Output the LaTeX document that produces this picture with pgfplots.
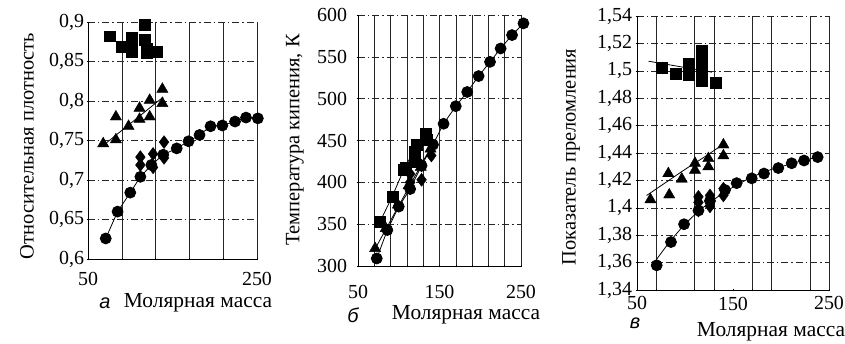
\documentclass[border=0pt]{standalone}
\usepackage{fontspec}
\setmainfont{Liberation Serif}
\newfontfamily\sansit{Liberation Sans}
\usepackage{pgfplots}
\pgfplotsset{compat=1.18}
\pgfplotsset{
  panel/.style={
    scale only axis, clip=false,
    axis x line*=bottom, axis y line*=left,
    axis line style={-, black, line width=0.6pt},
    grid=major,
    x grid style={black!85, line width=0.5pt},
    y grid style={black!85, line width=0.5pt, dash pattern=on 7pt off 3pt on 1.5pt off 3pt},
    tick style={black, line width=0.5pt}, major tick length=3pt, tick align=center,
    ticklabel style={font=\fontsize{20}{20}\selectfont},
    /pgf/number format/assume math mode=true,
    /pgf/number format/use comma,
    xmin=50, xmax=250,
    anchor=north west,
  },
  circ/.style={black, mark=*, mark size=5.5pt, line width=0.8pt},
  sq/.style={black, only marks, mark=square*, mark size=5.5pt},
  tri/.style={black, only marks, mark=triangle*, mark size=6.5pt},
  dia/.style={black, only marks, mark=diamond*, mark size=6.5pt},
  trend/.style={black, no marks, line width=0.8pt},
}
\begin{document}
\begin{tikzpicture}
\useasboundingbox (0bp,0bp) rectangle (845bp,344bp);
% ---------------- panel a
\begin{axis}[panel, at={(88bp,322bp)}, width=169bp, height=237bp,
  ymin=0.6, ymax=0.9,
  xtick={50,90,130,170,210,250}, xticklabels={50,,,,,250},
  ytick={0.6,0.65,0.7,0.75,0.8,0.85,0.9},
  xticklabel style={yshift=-8bp},
  yticklabel style={xshift=1bp}]
\addplot[trend] coordinates {(66,0.742) (139,0.805)};
\addplot[trend] coordinates {(76,0.882) (92,0.866)};
\addplot[circ] coordinates {(71,0.626) (85,0.660) (100,0.684) (112,0.704) (125,0.719) (139,0.732) (155,0.740) (169,0.749) (182,0.757) (195,0.768) (209,0.769) (224,0.774) (237,0.779) (251,0.778)};
\addplot[dia] coordinates {(112,0.729) (112,0.719) (127,0.733) (127,0.716) (140,0.748) (140,0.728)};
\addplot[tri] coordinates {(68,0.746) (83,0.780) (83,0.751) (98,0.768) (111,0.791) (111,0.777) (123,0.801) (123,0.780) (138,0.815) (138,0.797)};
\addplot[sq] coordinates {(76,0.882) (90,0.869) (102,0.880) (102,0.870) (102,0.862) (117,0.897) (117,0.878) (119,0.866) (119,0.861) (131,0.863)};
\end{axis}
% ---------------- panel b
\begin{axis}[panel, at={(358bp,329bp)}, width=163bp, height=251bp,
  ymin=300, ymax=600,
  xtick={50,70,...,250}, xticklabels={50,,,,,150,,,,,250},
  ytick={300,350,...,600},
  xticklabel style={yshift=-14bp},
  yticklabel style={xshift=-6bp}]
\addplot[trend] coordinates {(69,317) (145,452)};
\addplot[trend] coordinates {(77,353) (92,383) (106,415) (121,442) (133,458)};
\addplot[circ] coordinates {(73,309) (86,343) (100,371) (114,392) (128,420) (142,445) (155,470) (170,491) (184,508) (198,527) (212,544) (225,560) (239,576) (253,590)};
\addplot[dia] coordinates {(114,400) (114,410) (128,403) (128,420) (140,432) (141,445)};
\addplot[tri] coordinates {(71,321) (84,345) (99,373) (112,396) (127,418) (139,440)};
\addplot[sq] coordinates {(77,353) (92,383) (106,415) (108,418) (120,437) (122,445) (120,425) (133,458) (134,451)};
\end{axis}
% ---------------- panel c
\begin{axis}[panel, at={(637bp,328bp)}, width=192bp, height=274bp,
  ymin=1.34, ymax=1.54,
  xtick={50,70,110,130,170,190,230,250}, xticklabels={50,,,,,,,250},
  extra x ticks={150}, extra x tick labels={150},
  extra x tick style={grid=none, xticklabel style={yshift=-1bp}},
  ytick={1.34,1.36,1.38,1.4,1.42,1.44,1.46,1.48,1.5,1.52,1.54},
  xticklabel style={yshift=-1bp}]
\addplot[trend] coordinates {(62,1.507) (128,1.499)};
\addplot[trend, smooth] coordinates {(60,1.409) (80,1.4185) (100,1.428) (120,1.437) (137,1.445)};
\addplot[trend, smooth] coordinates {(70,1.362) (85,1.376) (100,1.388) (115,1.398) (130,1.406) (145,1.413) (160,1.419) (175,1.424) (190,1.428) (205,1.431) (220,1.434) (238,1.437)};
\addplot[circ, only marks] coordinates {(70.5,1.358) (85.4,1.375) (99,1.388) (114,1.398) (126,1.405) (141.7,1.413) (153.8,1.418) (169.5,1.4215) (182.3,1.425) (197.2,1.429) (211.1,1.4325) (224,1.4345) (238.2,1.437)};
\addplot[dia] coordinates {(114,1.408) (114,1.404) (114,1.398) (126,1.409) (126,1.401) (140,1.414) (140,1.409)};
\addplot[tri] coordinates {(64,1.406) (82.6,1.425) (83.6,1.4095) (96.6,1.421) (110.4,1.4275) (110.4,1.4325) (124.3,1.430) (124.3,1.436) (140,1.446) (140,1.438)};
\addplot[sq] coordinates {(76,1.502) (90,1.498) (104,1.505) (104,1.500) (104,1.497) (117,1.515) (117,1.506) (117,1.499) (117,1.493) (132,1.491)};
\end{axis}
% ---------------- labels
\node[rotate=90, font=\fontsize{20.5}{20}\selectfont] at (27bp,198bp) {Относительная плотность};
\node[rotate=90, font=\fontsize{20.5}{20}\selectfont] at (295bp,204bp) {Температура кипения, К};
\node[rotate=90, font=\fontsize{20.5}{20}\selectfont] at (571bp,187bp) {Показатель преломления};
\node[font=\fontsize{21.5}{20}\selectfont] at (198bp,41bp) {Молярная масса};
\node[font=\fontsize{21.5}{20}\selectfont] at (466bp,29bp) {Молярная масса};
\node[font=\fontsize{21.5}{20}\selectfont] at (771bp,12bp) {Молярная масса};
\node[font=\sansit\itshape\fontsize{20}{20}\selectfont] at (105bp,41bp) {а};
\node[font=\sansit\itshape\fontsize{20}{20}\selectfont] at (353bp,29bp) {б};
\node[font=\sansit\itshape\fontsize{20}{20}\selectfont] at (635bp,21bp) {в};
\end{tikzpicture}
\end{document}
